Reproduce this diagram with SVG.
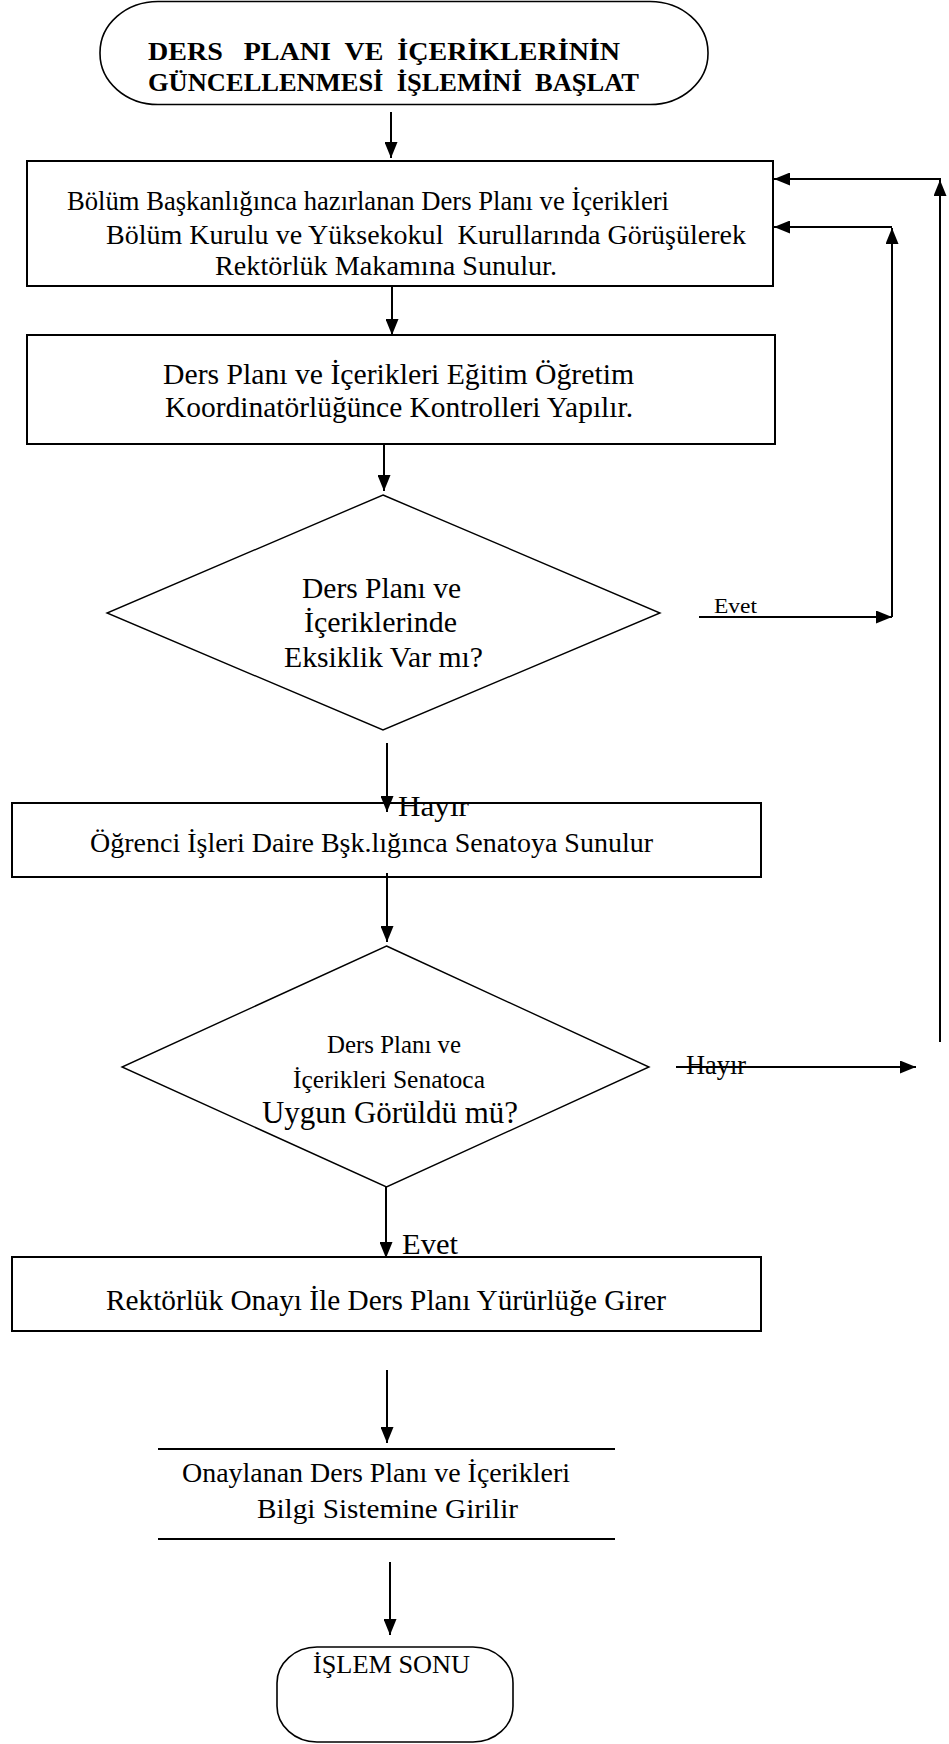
<svg xmlns="http://www.w3.org/2000/svg" width="949" height="1744" viewBox="0 0 949 1744">
  <style>
    .box { fill: #ffffff; stroke: #000000; stroke-width: 2; }
    .term { fill: #ffffff; stroke: #000000; stroke-width: 1.6; }
    .dia { fill: #ffffff; stroke: #000000; stroke-width: 1.4; }
    .conn { fill: none; stroke: #000000; stroke-width: 2; }
    .rule { stroke: #000000; stroke-width: 2; }
    .t { font-family: "Liberation Serif", "Times New Roman", serif; fill: #000000; }
    .b { font-weight: bold; }
  </style>
  <defs>
    <marker id="ah" markerUnits="userSpaceOnUse" markerWidth="17" markerHeight="13" refX="16" refY="6.5" orient="auto">
      <path d="M0,0 L16,6.5 L0,13 z" fill="#000000"/>
    </marker>
  </defs>

  <rect width="949" height="1744" fill="#ffffff"/>

  <!-- start terminator -->
  <g id="start">
    <rect class="term" x="100" y="1.5" width="608" height="103" rx="58" ry="51"/>
    <text class="t b" x="148" y="60" font-size="25" textLength="472" lengthAdjust="spacingAndGlyphs" xml:space="preserve">DERS   PLANI  VE  İÇERİKLERİNİN</text>
    <text class="t b" x="148" y="91" font-size="25" textLength="491" lengthAdjust="spacingAndGlyphs" xml:space="preserve">GÜNCELLENMESİ  İŞLEMİNİ  BAŞLAT</text>
  </g>

  <!-- step 1 -->
  <g id="prepare">
    <rect class="box" x="27" y="161" width="746" height="125"/>
    <text class="t" x="67" y="210" font-size="28" textLength="602" lengthAdjust="spacingAndGlyphs">Bölüm Başkanlığınca hazırlanan Ders Planı ve İçerikleri</text>
    <text class="t" x="106" y="244" font-size="28" textLength="640" lengthAdjust="spacingAndGlyphs" xml:space="preserve">Bölüm Kurulu ve Yüksekokul  Kurullarında Görüşülerek</text>
    <text class="t" x="215" y="275" font-size="28" textLength="342" lengthAdjust="spacingAndGlyphs">Rektörlük Makamına Sunulur.</text>
  </g>

  <!-- step 2 -->
  <g id="control">
    <rect class="box" x="27" y="335" width="748" height="109"/>
    <text class="t" x="163" y="384" font-size="29" textLength="471" lengthAdjust="spacingAndGlyphs">Ders Planı ve İçerikleri Eğitim Öğretim</text>
    <text class="t" x="165" y="417" font-size="29" textLength="468" lengthAdjust="spacingAndGlyphs">Koordinatörlüğünce Kontrolleri Yapılır.</text>
  </g>

  <!-- decision 1 -->
  <g id="missing">
    <polygon class="dia" points="383,495 660,613 383,730 107,613"/>
    <text class="t" x="302" y="598" font-size="29" textLength="159" lengthAdjust="spacingAndGlyphs">Ders Planı ve</text>
    <text class="t" x="304" y="632" font-size="29" textLength="153" lengthAdjust="spacingAndGlyphs">İçeriklerinde</text>
    <text class="t" x="284" y="667" font-size="29" textLength="199" lengthAdjust="spacingAndGlyphs">Eksiklik Var mı?</text>
  </g>

  <!-- step 3 -->
  <g id="senate">
    <rect class="box" x="12" y="803" width="749" height="74"/>
    <text class="t" x="90" y="852" font-size="28" textLength="563" lengthAdjust="spacingAndGlyphs">Öğrenci İşleri Daire Bşk.lığınca Senatoya Sunulur</text>
  </g>

  <!-- decision 2 -->
  <g id="approved">
    <polygon class="dia" points="386.5,946 649,1067 386.5,1187 122,1067"/>
    <text class="t" x="327" y="1053" font-size="26" textLength="134" lengthAdjust="spacingAndGlyphs">Ders Planı ve</text>
    <text class="t" x="293" y="1088" font-size="26" textLength="192" lengthAdjust="spacingAndGlyphs">İçerikleri Senatoca</text>
    <text class="t" x="262" y="1123" font-size="31" textLength="256" lengthAdjust="spacingAndGlyphs">Uygun Görüldü mü?</text>
  </g>

  <!-- step 4 -->
  <g id="rector">
    <rect class="box" x="12" y="1257" width="749" height="74"/>
    <text class="t" x="106" y="1310" font-size="29" textLength="560" lengthAdjust="spacingAndGlyphs">Rektörlük Onayı İle Ders Planı Yürürlüğe Girer</text>
  </g>

  <!-- step 5 -->
  <g id="system">
    <line class="rule" x1="158" y1="1449" x2="615" y2="1449"/>
    <line class="rule" x1="158" y1="1539" x2="615" y2="1539"/>
    <text class="t" x="182" y="1482" font-size="28" textLength="388" lengthAdjust="spacingAndGlyphs">Onaylanan Ders Planı ve İçerikleri</text>
    <text class="t" x="257" y="1518" font-size="28" textLength="261" lengthAdjust="spacingAndGlyphs">Bilgi Sistemine Girilir</text>
  </g>

  <!-- end terminator -->
  <g id="end">
    <rect class="term" x="277" y="1647" width="236" height="95" rx="40" ry="36"/>
    <text class="t" x="313" y="1673" font-size="26" textLength="157" lengthAdjust="spacingAndGlyphs">İŞLEM SONU</text>
  </g>

  <!-- connectors -->
  <g id="connectors">
    <line class="conn" x1="391" y1="112" x2="391" y2="158" marker-end="url(#ah)"/>
    <line class="conn" x1="392" y1="286" x2="392" y2="335" marker-end="url(#ah)"/>
    <line class="conn" x1="384" y1="445" x2="384" y2="491" marker-end="url(#ah)"/>
    <line class="conn" x1="387" y1="743" x2="387" y2="812" marker-end="url(#ah)"/>
    <line class="conn" x1="387" y1="873" x2="387" y2="942" marker-end="url(#ah)"/>
    <line class="conn" x1="386" y1="1187" x2="386" y2="1258" marker-end="url(#ah)"/>
    <line class="conn" x1="387" y1="1370" x2="387" y2="1443" marker-end="url(#ah)"/>
    <line class="conn" x1="390" y1="1562" x2="390" y2="1635" marker-end="url(#ah)"/>

    <!-- yes branch of first decision back to step 1 -->
    <line class="conn" x1="699" y1="617" x2="892" y2="617" marker-end="url(#ah)"/>
    <line class="conn" x1="892" y1="617" x2="892" y2="228" marker-end="url(#ah)"/>
    <line class="conn" x1="892" y1="227" x2="774" y2="227" marker-end="url(#ah)"/>

    <!-- no branch of second decision back to step 1 -->
    <line class="conn" x1="676" y1="1067" x2="916" y2="1067" marker-end="url(#ah)"/>
    <line class="conn" x1="940" y1="1042" x2="940" y2="180" marker-end="url(#ah)"/>
    <line class="conn" x1="941" y1="179" x2="774" y2="179" marker-end="url(#ah)"/>

    <!-- branch labels -->
    <text class="t" x="714" y="613" font-size="21" textLength="43" lengthAdjust="spacingAndGlyphs">Evet</text>
    <text class="t" x="398" y="816" font-size="30" textLength="71" lengthAdjust="spacingAndGlyphs">Hayır</text>
    <text class="t" x="686" y="1074" font-size="28" textLength="60" lengthAdjust="spacingAndGlyphs">Hayır</text>
    <text class="t" x="402" y="1254" font-size="30" textLength="56" lengthAdjust="spacingAndGlyphs">Evet</text>
  </g>
</svg>
